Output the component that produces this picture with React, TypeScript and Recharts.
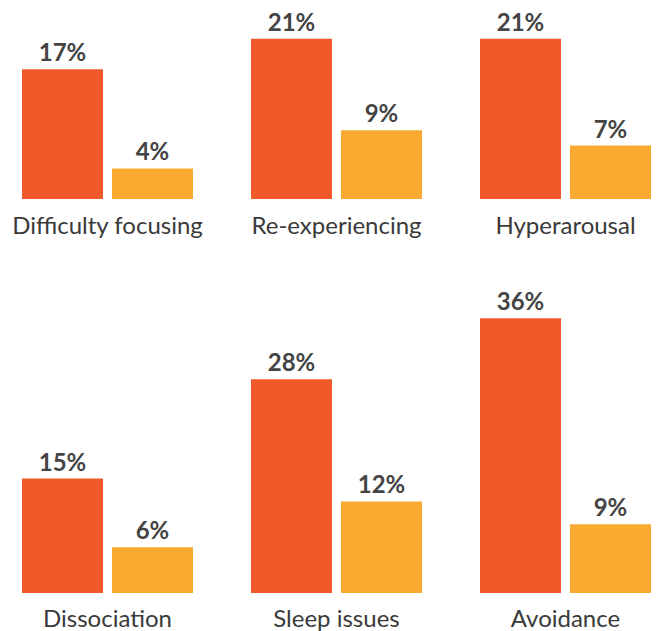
import React from "react";
import { BarChart, Bar, XAxis, YAxis, LabelList } from "recharts";

// Symptom categories, in reading order (two rows of three)
const categories = [
  "Difficulty focusing",
  "Re-experiencing",
  "Hyperarousal",
  "Dissociation",
  "Sleep issues",
  "Avoidance",
];

// Percent of respondents per symptom, for each of the two groups
const groupAValues = [17, 21, 21, 15, 28, 36];
const groupBValues = [4, 9, 7, 6, 12, 9];

const COLOR_A = "#F05A2A";
const COLOR_B = "#F9A92F";
const FONT = "Lato, 'Open Sans', sans-serif";

type Row = { name: string; a: number; b: number };

const buildRow = (start: number): Row[] =>
  categories.slice(start, start + 3).map((name, i) => ({
    name,
    a: groupAValues[start + i],
    b: groupBValues[start + i],
  }));

const rowTop = buildRow(0);
const rowBottom = buildRow(3);

const pct = (v: unknown) => `${v}%`;

interface RowChartProps {
  data: Row[];
  top: number;
  height: number;
  marginTop: number;
  axisHeight: number;
  yMax: number;
  tickMargin: number;
}

function RowChart({ data, top, height, marginTop, axisHeight, yMax, tickMargin }: RowChartProps) {
  return (
    <div style={{ position: "absolute", left: -7, top }}>
      <BarChart
        width={687}
        height={height}
        data={data}
        margin={{ top: marginTop, right: 0, bottom: 0, left: 0 }}
        barGap={9}
        barSize={81}
      >
        <YAxis hide domain={[0, yMax]} />
        <XAxis
          dataKey="name"
          axisLine={false}
          tickLine={false}
          tickSize={0}
          tickMargin={tickMargin}
          height={axisHeight}
          interval={0}
          tick={{ fill: "#3a3a3a", fontSize: 24, fontFamily: FONT }}
        />
        <Bar dataKey="a" fill={COLOR_A} isAnimationActive={false}>
          <LabelList
            dataKey="a"
            position="top"
            offset={8}
            formatter={pct}
            fill="#444444"
            fontSize={24}
            fontWeight={700}
            fontFamily={FONT}
          />
        </Bar>
        <Bar dataKey="b" fill={COLOR_B} isAnimationActive={false}>
          <LabelList
            dataKey="b"
            position="top"
            offset={8}
            formatter={pct}
            fill="#444444"
            fontSize={24}
            fontWeight={700}
            fontFamily={FONT}
          />
        </Bar>
      </BarChart>
    </div>
  );
}

export default function App() {
  return (
    <div
      style={{
        position: "absolute",
        left: 0,
        top: 0,
        width: 657,
        height: 631,
        overflow: "hidden",
        background: "#ffffff",
      }}
    >
      <RowChart
        data={rowTop}
        top={0}
        height={250}
        marginTop={8.25}
        axisHeight={51}
        yMax={25}
        tickMargin={18}
      />
      <RowChart
        data={rowBottom}
        top={280}
        height={351}
        marginTop={7.8}
        axisHeight={38}
        yMax={40}
        tickMargin={17}
      />
    </div>
  );
}
